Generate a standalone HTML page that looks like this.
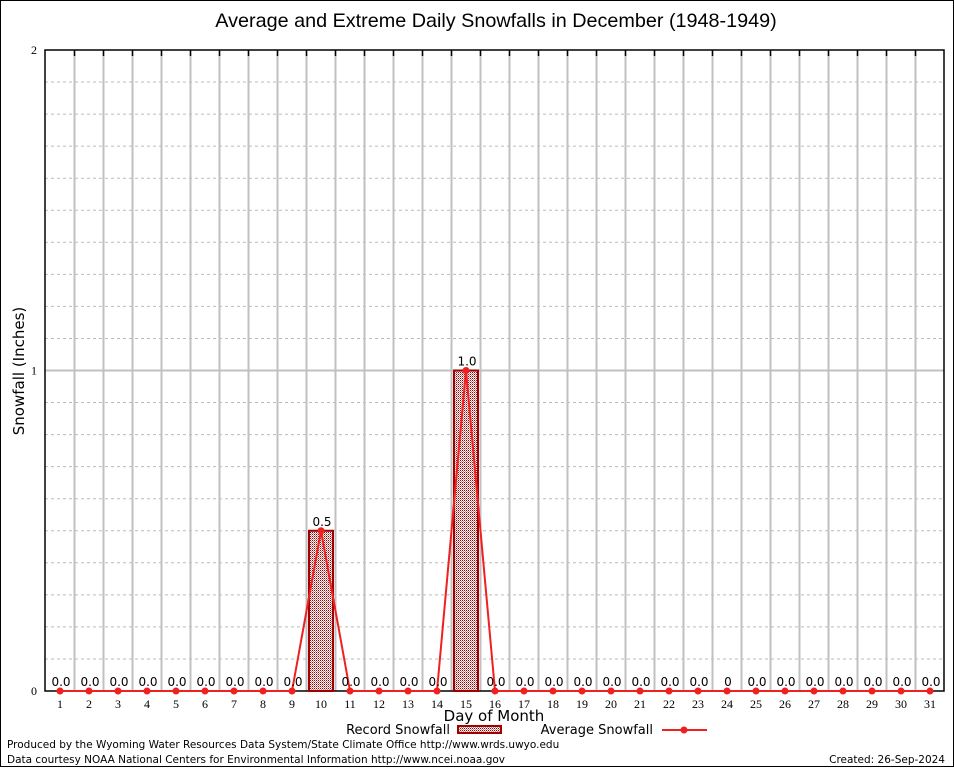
<!DOCTYPE html>
<html><head><meta charset="utf-8"><style>
body{margin:0;background:#fff}
svg{display:block;font-family:"DejaVu Sans","Liberation Sans",sans-serif}
</style></head><body>
<svg id="c" width="954" height="768" xmlns="http://www.w3.org/2000/svg">
<defs><pattern id="pt" width="2" height="2" patternUnits="userSpaceOnUse"><rect width="2" height="2" fill="#fff"/><rect width="1" height="1" fill="#a00000"/><rect x="1" y="1" width="1" height="1" fill="#d08080"/></pattern></defs>
<rect x="0.5" y="0.5" width="953" height="766" fill="#fff" stroke="#000"/>
<text x="496" y="27" font-size="19.8" text-anchor="middle" font-family="Liberation Sans, sans-serif">Average and Extreme Daily Snowfalls in December (1948-1949)</text>
<g id="grid"></g><g id="marks"></g>
<text transform="translate(24,371) rotate(-90)" font-size="15" text-anchor="middle">Snowfall (Inches)</text>
<text x="494" y="721" font-size="15" text-anchor="middle">Day of Month</text>
<g>
<text x="450" y="734" font-size="13" text-anchor="end">Record Snowfall</text>
<rect x="458" y="726" width="43" height="7" fill="url(#pt)" stroke="#a00000" stroke-width="2"/>
<text x="653" y="734" font-size="13" text-anchor="end">Average Snowfall</text>
<line x1="662" y1="730" x2="707" y2="730" stroke="#f02020" stroke-width="2"/>
<circle cx="684" cy="730" r="3.5" fill="#f02020"/>
</g>
<text x="7" y="748" font-size="10.5">Produced by the Wyoming Water Resources Data System/State Climate Office http://www.wrds.uwyo.edu</text>
<text x="7" y="763" font-size="10.5">Data courtesy NOAA National Centers for Environmental Information http://www.ncei.noaa.gov</text>
<text x="945" y="763" font-size="10.5" text-anchor="end">Created: 26-Sep-2024</text>
</svg>
<script>
const days=[1,2,3,4,5,6,7,8,9,10,11,12,13,14,15,16,17,18,19,20,21,22,23,24,25,26,27,28,29,30,31];
const recordSnow=[0,0,0,0,0,0,0,0,0,0.5,0,0,0,0,1.0,0,0,0,0,0,0,0,0,0,0,0,0,0,0,0,0];
const avgSnow=[0,0,0,0,0,0,0,0,0,0.5,0,0,0,0,1.0,0,0,0,0,0,0,0,0,0,0,0,0,0,0,0,0];
const valueLabels=["0.0","0.0","0.0","0.0","0.0","0.0","0.0","0.0","0.0","0.5","0.0","0.0","0.0","0.0","1.0","0.0","0.0","0.0","0.0","0.0","0.0","0.0","0.0","0","0.0","0.0","0.0","0.0","0.0","0.0","0.0"];
const yTicks=[0,1,2];
const NS="http://www.w3.org/2000/svg";
const L=45,R=944,T=50,B=691,yMax=2;
const x=d=>60+(d-1)*29;
const y=v=>B-(v/yMax)*(B-T);
const grid=document.getElementById('grid'),marks=document.getElementById('marks');
function mk(p,tag,a){const e=document.createElementNS(NS,tag);for(const k in a)e.setAttribute(k,a[k]);p.appendChild(e);return e;}
for(let i=1;i<20;i++){if(i%10===0)continue;const l=mk(grid,'line',{x1:L,x2:R,y1:y(i*0.1),y2:y(i*0.1),stroke:'#bbb','stroke-dasharray':'3,3'});

}
for(let i=1;i<days.length;i++){const gx=x(days[i])-14.5;const l=mk(grid,'line',{x1:gx,x2:gx,y1:T,y2:B,stroke:'#c0c0c0','stroke-width':2});


const t=mk(grid,'line',{x1:gx,x2:gx,y1:T,y2:T+6,stroke:'#000','stroke-width':1.5});

}
yTicks.forEach(v=>{if(v>0&&v<yMax){const l=mk(grid,'line',{x1:L,x2:R,y1:y(v),y2:y(v),stroke:'#c0c0c0','stroke-width':2});

}
const t=mk(grid,'text',{x:37,y:y(v)+4,'font-size':12,'text-anchor':'end','font-family':'Liberation Serif, serif'});t.textContent=v;

});
const fr=mk(grid,'rect',{x:L,y:T,width:R-L,height:B-T,fill:'none',stroke:'#000','stroke-width':1.5});


days.forEach((d,i)=>{const t=mk(grid,'text',{x:x(d),y:708,'font-size':12,'text-anchor':'middle','font-family':'Liberation Serif, serif'});t.textContent=d;


if(recordSnow[i]>0){const b=mk(marks,'rect',{x:x(d)-12,y:y(recordSnow[i]),width:24,height:B-y(recordSnow[i]),fill:'url(#pt)',stroke:'#a00000','stroke-width':2});

}});
const pl=mk(marks,'polyline',{points:days.map((d,i)=>x(d)+','+y(avgSnow[i])).join(' '),fill:'none',stroke:'#f02020','stroke-width':2});


days.forEach((d,i)=>{const c=mk(marks,'circle',{cx:x(d),cy:y(avgSnow[i]),r:3.5,fill:'#f02020'});


const t=mk(marks,'text',{x:x(d)+1,y:y(Math.max(recordSnow[i],avgSnow[i]))-5,'font-size':12,'text-anchor':'middle'});t.textContent=valueLabels[i];

});
</script>
</body></html>
